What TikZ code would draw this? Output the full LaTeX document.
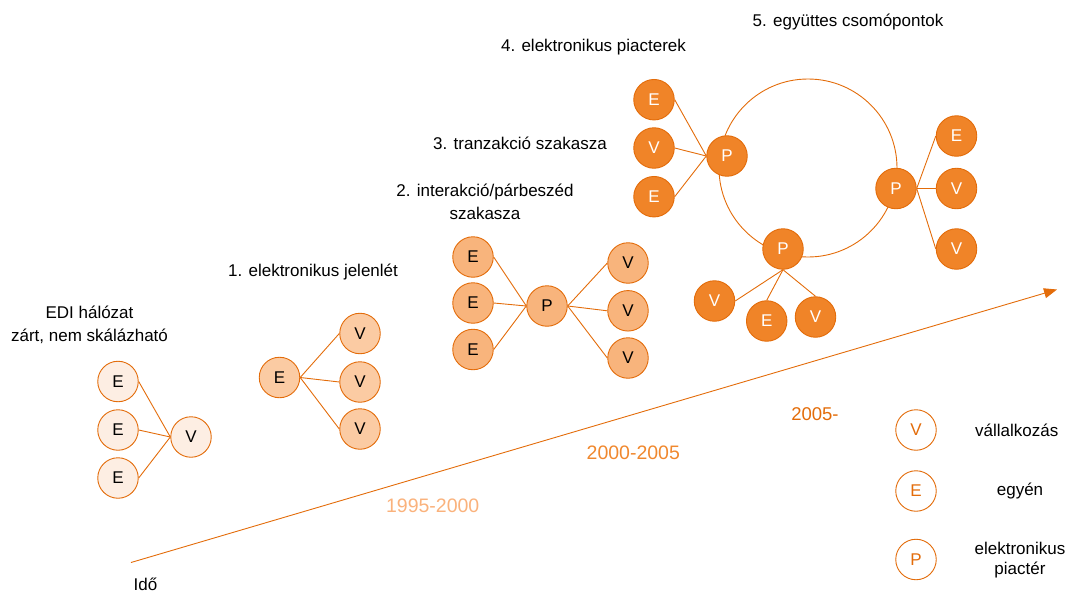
\documentclass[tikz,border=0pt]{standalone}
\usepackage{fontspec}
\setmainfont{Liberation Sans}
\usetikzlibrary{arrows.meta}
\definecolor{ostroke}{HTML}{E36C0A}
\definecolor{fedi}{HTML}{FDEEE3}
\definecolor{fgone}{HTML}{FBCBA3}
\definecolor{fgtwo}{HTML}{F8B47C}
\definecolor{fgfour}{HTML}{F08428}
\definecolor{yone}{HTML}{FAB27C}
\definecolor{ytwo}{HTML}{F0882E}
\definecolor{ythree}{HTML}{E36C09}
\begin{document}
\begin{tikzpicture}[x=1pt,y=-1pt,
  every node/.style={font=\fontsize{17}{20}\selectfont},
  nd/.style={circle,draw=ostroke,line width=0.9pt,minimum size=40.5pt,inner sep=0pt},
  edi/.style={nd,fill=fedi},
  gone/.style={nd,fill=fgone},
  gtwo/.style={nd,fill=fgtwo},
  gfour/.style={nd,fill=fgfour,text=white},
  leg/.style={nd,fill=white,text=ostroke},
  conn/.style={draw=ostroke,line width=0.9pt},
  lbl/.style={align=center,inner sep=0pt},
  year/.style={inner sep=0pt,font=\fontsize{19.5}{22}\selectfont}]
\useasboundingbox (0,0) rectangle (1069,594);

% ring of stage 5 (behind nodes)
\coordinate (ring) at (808,168);
\draw[conn] (ring) circle[radius=89pt];

% time axis
\coordinate (t0) at (131,562.5);
\coordinate (t1) at (1057,289.5);
\draw[conn,-{Triangle[length=13pt,width=10pt]}] (t0) -- (t1);

% labels
\node[lbl,font=\fontsize{17}{23}\selectfont] (l0) at (89.5,325) {EDI hálózat\\zárt, nem skálázható};
\node[lbl] (l1) at (313,272) {1. elektronikus jelenlét};
\node[lbl,font=\fontsize{17}{23}\selectfont] (l2) at (485,201.5) {2. interakció/párbeszéd\\szakasza};
\node[lbl] (l3) at (520,143) {3. tranzakció szakasza};
\node[lbl] (l4) at (593.5,47) {4. elektronikus piacterek};
\node[lbl] (l5) at (848,22) {5. együttes csomópontok};
\node[lbl] (ido) at (145.5,584) {Idő};
\node[year,text=yone] (y1) at (432.7,505.5) {1995-2000};
\node[year,text=ytwo] (y2) at (633.3,452.5) {2000-2005};
\node[year,text=ythree,font=\fontsize{18.5}{22}\selectfont] (y3) at (815,414) {2005-};

% EDI group
\node[edi] (a1) at (118,381.5) {E};
\node[edi] (a2) at (118,430) {E};
\node[edi] (a3) at (118,478) {E};
\node[edi] (av) at (191,437) {V};
\foreach \n in {a1,a2,a3} \draw[conn] (\n.east) -- (av.west);

% stage 1
\node[gone] (b0) at (279.5,377.5) {E};
\node[gone] (b1) at (360,333.5) {V};
\node[gone] (b2) at (360,382) {V};
\node[gone] (b3) at (360,429) {V};
\foreach \n in {b1,b2,b3} \draw[conn] (b0.east) -- (\n.west);

% stage 2
\node[gtwo] (c1) at (473,257) {E};
\node[gtwo] (c2) at (473,303) {E};
\node[gtwo] (c3) at (473,349.5) {E};
\node[gtwo] (cp) at (547,306) {P};
\node[gtwo] (c4) at (628,263) {V};
\node[gtwo] (c5) at (628,310.8) {V};
\node[gtwo] (c6) at (628,358) {V};
\foreach \n in {c1,c2,c3} \draw[conn] (\n.east) -- (cp.west);
\foreach \n in {c4,c5,c6} \draw[conn] (cp.east) -- (\n.west);

% stage 3/4
\node[gfour] (d1) at (654,99.7) {E};
\node[gfour] (d2) at (654,148) {V};
\node[gfour] (d3) at (654,196.7) {E};
\node[gfour] (dp) at (727,156) {P};
\foreach \n in {d1,d2,d3} \draw[conn] (\n.east) -- (dp.west);

% stage 5
\node[gfour] (ep) at (896,188.5) {P};
\node[gfour] (e1) at (956.5,136) {E};
\node[gfour] (e2) at (956.5,188.5) {V};
\node[gfour] (e3) at (956.5,249) {V};
\foreach \n in {e1,e2,e3} \draw[conn] (ep.east) -- (\n.west);

\node[gfour] (fp) at (783,249) {P};
\node[gfour] (f1) at (714.5,301) {V};
\node[gfour] (f2) at (766.7,321) {E};
\node[gfour] (f3) at (815.5,317) {V};
\draw[conn] (fp.south) -- (f1.east);
\draw[conn] (fp.south) -- (f2.north);
\draw[conn] (fp.south) -- (f3.north);

% legend
\node[leg] (gv) at (916,430) {V};
\node[leg] (ge) at (916,491) {E};
\node[leg] (gp) at (916,559.5) {P};
\node[lbl] (tv) at (1016.7,430) {vállalkozás};
\node[lbl] (te) at (1020,491) {egyén};
\node[lbl] (tp) at (1020,560) {elektronikus\\piactér};
\end{tikzpicture}
\end{document}
